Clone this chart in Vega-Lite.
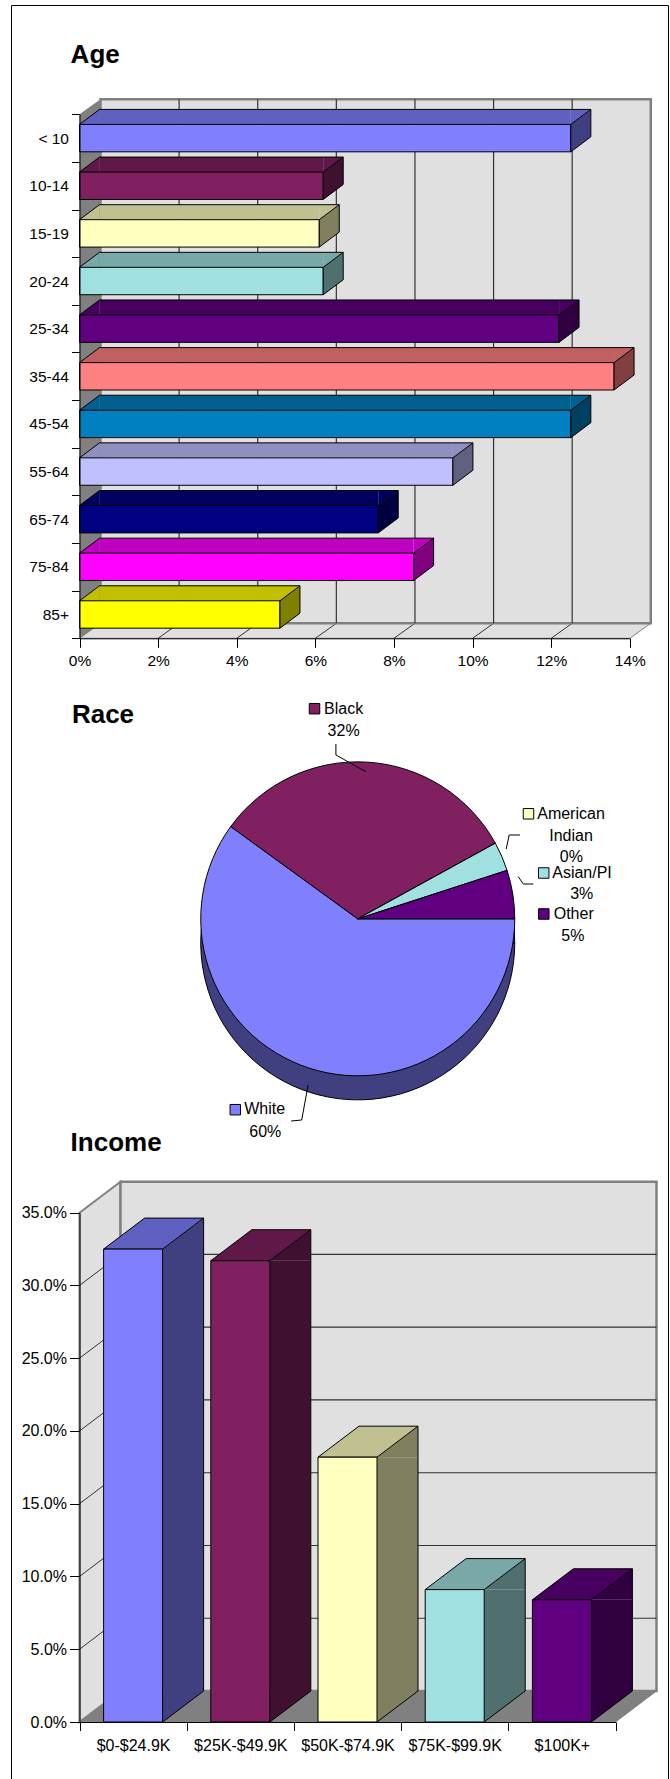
{
  "$schema": "https://vega.github.io/schema/vega-lite/v6.json",
  "width": 657,
  "height": 1774,
  "autosize": {"type": "none"},
  "padding": {"left": 11, "top": 5, "right": 2, "bottom": 0},
  "background": "#FFFFFF",
  "config": {
    "view": {"fill": "#FFFFC0", "stroke": "#000000", "strokeWidth": 1},
    "font": "Liberation Sans",
    "legend": {"disable": true},
    "axis": {"grid": false, "domainColor": "#000000", "tickColor": "#000000", "labelColor": "#000000", "titleColor": "#000000", "labelFont": "Liberation Sans", "titleFont": "Liberation Sans", "labelOverlap": false, "labelFlush": false, "labelAngle": 0, "domainWidth": 1, "tickWidth": 1, "zindex": 1}
  },
  "datasets": {
    "age": [
      {"age": "< 10", "pct": 12.5},
      {"age": "10-14", "pct": 6.2},
      {"age": "15-19", "pct": 6.1},
      {"age": "20-24", "pct": 6.2},
      {"age": "25-34", "pct": 12.2},
      {"age": "35-44", "pct": 13.6},
      {"age": "45-54", "pct": 12.5},
      {"age": "55-64", "pct": 9.5},
      {"age": "65-74", "pct": 7.6},
      {"age": "75-84", "pct": 8.5},
      {"age": "85+", "pct": 5.1}
    ],
    "race": [
      {"race": "White", "share": 0.60, "rank": 1},
      {"race": "Black", "share": 0.32, "rank": 2},
      {"race": "American Indian", "share": 0.0, "rank": 3},
      {"race": "Asian/PI", "share": 0.03, "rank": 4},
      {"race": "Other", "share": 0.05, "rank": 5}
    ],
    "income": [
      {"bracket": "$0-$24.9K", "pct": 32.5},
      {"bracket": "$25K-$49.9K", "pct": 31.7},
      {"bracket": "$50K-$74.9K", "pct": 18.2},
      {"bracket": "$75K-$99.9K", "pct": 9.1},
      {"bracket": "$100K+", "pct": 8.4}
    ],
    "ageTicks": [{"v": 2}, {"v": 4}, {"v": 6}, {"v": 8}, {"v": 10}, {"v": 12}],
    "incTicks": [{"v": 5}, {"v": 10}, {"v": 15}, {"v": 20}, {"v": 25}, {"v": 30}],
    "one": [{"k": 1}]
  },
  "layer": [
    {
      "layer": [
        {
          "data": {"name": "one"},
          "mark": {"type": "point", "shape": "M0,0L21,-15L571.3,-15L550.3,0Z", "size": 4, "filled": true, "opacity": 1, "fill": "#E0E0E0", "stroke": "#808080", "strokeWidth": 1, "yOffset": 23.82},
          "encoding": {
            "x": {"datum": 0, "type": "quantitative"},
            "y": {"datum": "85+", "type": "nominal"}
          }
        },
        {
          "data": {"name": "ageTicks"},
          "mark": {"type": "point", "shape": "M0,0L21,-15", "size": 4, "filled": false, "opacity": 1, "stroke": "#333333", "strokeWidth": 1, "yOffset": 23.82},
          "encoding": {
            "x": {"field": "v", "type": "quantitative"},
            "y": {"datum": "85+", "type": "nominal"}
          }
        },
        {
          "data": {"name": "one"},
          "mark": {"type": "rect", "fill": "#E0E0E0", "stroke": "#808080", "strokeWidth": 2.5, "xOffset": 21, "x2Offset": 21, "yOffset": -38.82, "y2Offset": 8.82},
          "encoding": {
            "x": {"datum": 0, "type": "quantitative"},
            "x2": {"datum": 14},
            "y": {"datum": "< 10", "type": "nominal"},
            "y2": {"datum": "85+"}
          }
        },
        {
          "data": {"name": "ageTicks"},
          "mark": {"type": "rule", "stroke": "#333333", "strokeWidth": 1.2, "xOffset": 21, "yOffset": -38.82, "y2Offset": 8.82},
          "encoding": {
            "x": {"field": "v", "type": "quantitative"},
            "y": {"datum": "< 10", "type": "nominal"},
            "y2": {"datum": "85+"}
          }
        },
        {
          "data": {"name": "one"},
          "mark": {"type": "point", "shape": "M0,0L21,-15L21,509L0,524Z", "size": 4, "filled": true, "opacity": 1, "fill": "#808080", "strokeWidth": 0, "yOffset": -23.82},
          "encoding": {
            "x": {"datum": 0, "type": "quantitative"},
            "y": {"datum": "< 10", "type": "nominal"}
          }
        },
        {
          "data": {"name": "age"},
          "mark": {"type": "bar", "orient": "horizontal", "height": 15, "x2Offset": 20, "yOffset": -21.2, "strokeWidth": 0},
          "encoding": {
            "x": {"field": "pct", "type": "quantitative"},
            "x2": {"datum": 0},
            "y": {"field": "age", "type": "nominal"},
            "fill": {"field": "age", "type": "nominal", "legend": null, "scale": {"domain": ["< 10", "10-14", "15-19", "20-24", "25-34", "35-44", "45-54", "55-64", "65-74", "75-84", "85+"], "range": ["#6060C0", "#601848", "#C0C090", "#78A8A8", "#480060", "#C06060", "#006090", "#9090C0", "#000060", "#C000C0", "#C0C000"]}}
          }
        },
        {
          "data": {"name": "age"},
          "mark": {"type": "point", "shape": "M0,0L20,-15L20,0Z", "size": 4, "filled": true, "opacity": 1, "strokeWidth": 0, "yOffset": -13.7},
          "encoding": {
            "x": {"datum": 0, "type": "quantitative"},
            "y": {"field": "age", "type": "nominal"},
            "fill": {"field": "age", "type": "nominal", "legend": null, "scale": {"domain": ["< 10", "10-14", "15-19", "20-24", "25-34", "35-44", "45-54", "55-64", "65-74", "75-84", "85+"], "range": ["#6060C0", "#601848", "#C0C090", "#78A8A8", "#480060", "#C06060", "#006090", "#9090C0", "#000060", "#C000C0", "#C0C000"]}}
          }
        },
        {
          "data": {"name": "age"},
          "mark": {"type": "point", "shape": "M0,0L20,-15L0,-15Z", "size": 4, "filled": true, "opacity": 1, "strokeWidth": 0, "yOffset": -13.7},
          "encoding": {
            "x": {"field": "pct", "type": "quantitative"},
            "y": {"field": "age", "type": "nominal"},
            "fill": {"field": "age", "type": "nominal", "legend": null, "scale": {"domain": ["< 10", "10-14", "15-19", "20-24", "25-34", "35-44", "45-54", "55-64", "65-74", "75-84", "85+"], "range": ["#6060C0", "#601848", "#C0C090", "#78A8A8", "#480060", "#C06060", "#006090", "#9090C0", "#000060", "#C000C0", "#C0C000"]}}
          }
        },
        {
          "data": {"name": "age"},
          "mark": {"type": "rule", "stroke": "#000000", "strokeWidth": 1, "xOffset": 20, "x2Offset": 20, "yOffset": -28.7},
          "encoding": {
            "x": {"field": "pct", "type": "quantitative"},
            "x2": {"datum": 0},
            "y": {"field": "age", "type": "nominal"}
          }
        },
        {
          "data": {"name": "age"},
          "mark": {"type": "point", "shape": "M0,0L20,-15", "size": 4, "filled": false, "opacity": 1, "stroke": "#000000", "strokeWidth": 1, "yOffset": -13.7},
          "encoding": {
            "x": {"datum": 0, "type": "quantitative"},
            "y": {"field": "age", "type": "nominal"}
          }
        },
        {
          "data": {"name": "age"},
          "mark": {"type": "bar", "height": 27.4, "stroke": "#000000", "strokeWidth": 1},
          "encoding": {
            "x": {"field": "pct", "type": "quantitative", "stack": null, "scale": {"type": "linear", "domain": [0, 14], "range": [68.5, 618.8], "nice": false, "zero": true},
              "axis": {"orient": "bottom", "offset": -1140.7, "values": [0, 2, 4, 6, 8, 10, 12, 14], "tickSize": 9, "labelPadding": 6, "labelFontSize": 15.5, "labelExpr": "datum.value + '%'", "title": null, "grid": false, "zindex": 1}},
            "y": {"field": "age", "type": "nominal", "scale": {"type": "band", "domain": ["< 10", "10-14", "15-19", "20-24", "25-34", "35-44", "45-54", "55-64", "65-74", "75-84", "85+"], "range": [109.3, 633.3], "paddingInner": 0, "paddingOuter": 0},
              "axis": {"orient": "left", "offset": -68.5, "tickBand": "extent", "tickSize": 8, "labelPadding": 3, "labelFontSize": 15.5, "zindex": 1, "title": "Age", "titleAngle": 0, "titleAlign": "left", "titleBaseline": "alphabetic", "titleX": -9.4, "titleY": 57.8, "titleFontSize": 26, "titleFontWeight": "bold"}},
            "fill": {"field": "age", "type": "nominal", "legend": null, "scale": {"domain": ["< 10", "10-14", "15-19", "20-24", "25-34", "35-44", "45-54", "55-64", "65-74", "75-84", "85+"], "range": ["#8080FF", "#802060", "#FFFFC0", "#A0E0E0", "#600080", "#FF8080", "#0080C0", "#C0C0FF", "#000080", "#FF00FF", "#FFFF00"]}}
          }
        },
        {
          "data": {"name": "age"},
          "mark": {"type": "point", "shape": "M0,0L20,-15L20,12.4L0,27.4Z", "size": 4, "filled": true, "opacity": 1, "stroke": "#000000", "strokeWidth": 1, "yOffset": -13.7},
          "encoding": {
            "x": {"field": "pct", "type": "quantitative"},
            "y": {"field": "age", "type": "nominal"},
            "fill": {"field": "age", "type": "nominal", "legend": null, "scale": {"domain": ["< 10", "10-14", "15-19", "20-24", "25-34", "35-44", "45-54", "55-64", "65-74", "75-84", "85+"], "range": ["#404080", "#401030", "#808060", "#507070", "#300040", "#804040", "#004060", "#606080", "#000040", "#800080", "#808000"]}}
          }
        }
      ],
      "resolve": {"scale": {"fill": "independent"}}
    },
    {
      "layer": [
        {
          "data": {"name": "race"},
          "mark": {"type": "arc", "outerRadius": 157, "fill": "#404080", "stroke": "#000000", "strokeWidth": 1, "xOffset": 18.25, "yOffset": 50.85},
          "encoding": {
            "theta": {"field": "share", "type": "quantitative", "stack": true, "scale": {"domain": [0, 1], "range": [1.5708, 7.854]}},
            "order": {"field": "rank", "type": "quantitative"}
          }
        },
        {
          "data": {"name": "race"},
          "mark": {"type": "arc", "outerRadius": 157, "stroke": "#000000", "strokeWidth": 1, "xOffset": 18.25, "yOffset": 26.85},
          "encoding": {
            "theta": {"field": "share", "type": "quantitative", "stack": true},
            "order": {"field": "rank", "type": "quantitative"},
            "fill": {"field": "race", "type": "nominal", "legend": null, "scale": {"domain": ["White", "Black", "American Indian", "Asian/PI", "Other"], "range": ["#8080FF", "#802060", "#FFFFC0", "#A0E0E0", "#600080"]}}
          }
        },
        {
          "data": {"name": "one"},
          "mark": {"type": "text", "text": "Race", "align": "left", "baseline": "alphabetic", "fontSize": 26, "fontWeight": "bold", "fill": "#000000", "dx": -267.6, "dy": -169.3}
        },
        {
          "data": {"name": "one"},
          "mark": {"type": "point", "shape": "M0,0L0,11L30,27.7", "size": 4, "filled": false, "opacity": 1, "stroke": "#000000", "strokeWidth": 1, "xOffset": -3.6, "yOffset": -148}
        },
        {
          "data": {"name": "one"},
          "mark": {"type": "point", "shape": "M0,0L-10.8,0L-13.8,14", "size": 4, "filled": false, "opacity": 1, "stroke": "#000000", "strokeWidth": 1, "xOffset": 180.5, "yOffset": -57}
        },
        {
          "data": {"name": "one"},
          "mark": {"type": "point", "shape": "M0,0L-10,0L-15,-7.3", "size": 4, "filled": false, "opacity": 1, "stroke": "#000000", "strokeWidth": 1, "xOffset": 193.8, "yOffset": -8}
        },
        {
          "data": {"name": "one"},
          "mark": {"type": "point", "shape": "M0,0L-6.4,35L-17,36", "size": 4, "filled": false, "opacity": 1, "stroke": "#000000", "strokeWidth": 1, "xOffset": -31.4, "yOffset": 193}
        },
        {
          "data": {"name": "race"},
          "transform": [{"filter": "datum.race === 'Black'"}],
          "mark": {"type": "point", "shape": "square", "size": 110, "filled": true, "opacity": 1, "stroke": "#000000", "strokeWidth": 1, "xOffset": -25, "yOffset": -183.3},
          "encoding": {"fill": {"field": "race", "type": "nominal", "legend": null}}
        },
        {
          "data": {"name": "race"},
          "transform": [{"filter": "datum.race === 'American Indian'"}],
          "mark": {"type": "point", "shape": "square", "size": 110, "filled": true, "opacity": 1, "stroke": "#000000", "strokeWidth": 1, "xOffset": 189, "yOffset": -78.2},
          "encoding": {"fill": {"field": "race", "type": "nominal", "legend": null}}
        },
        {
          "data": {"name": "race"},
          "transform": [{"filter": "datum.race === 'Asian/PI'"}],
          "mark": {"type": "point", "shape": "square", "size": 110, "filled": true, "opacity": 1, "stroke": "#000000", "strokeWidth": 1, "xOffset": 204.2, "yOffset": -19},
          "encoding": {"fill": {"field": "race", "type": "nominal", "legend": null}}
        },
        {
          "data": {"name": "race"},
          "transform": [{"filter": "datum.race === 'Other'"}],
          "mark": {"type": "point", "shape": "square", "size": 110, "filled": true, "opacity": 1, "stroke": "#000000", "strokeWidth": 1, "xOffset": 204.3, "yOffset": 22},
          "encoding": {"fill": {"field": "race", "type": "nominal", "legend": null}}
        },
        {
          "data": {"name": "race"},
          "transform": [{"filter": "datum.race === 'White'"}],
          "mark": {"type": "point", "shape": "square", "size": 110, "filled": true, "opacity": 1, "stroke": "#000000", "strokeWidth": 1, "xOffset": -104.2, "yOffset": 217.7},
          "encoding": {"fill": {"field": "race", "type": "nominal", "legend": null}}
        },
        {
          "data": {"name": "race"},
          "transform": [{"filter": "datum.race === 'Black'"}],
          "mark": {"type": "text", "align": "center", "baseline": "alphabetic", "fontSize": 16, "fill": "#000000", "dx": 4.1, "dy": -178},
          "encoding": {"text": {"field": "race", "type": "nominal"}}
        },
        {
          "data": {"name": "race"},
          "transform": [{"filter": "datum.race === 'Black'"}],
          "mark": {"type": "text", "align": "center", "baseline": "alphabetic", "fontSize": 16, "fill": "#000000", "dx": 4.1, "dy": -156},
          "encoding": {"text": {"field": "share", "type": "quantitative", "format": ".0%"}}
        },
        {
          "data": {"name": "race"},
          "transform": [{"filter": "datum.race === 'American Indian'"}],
          "mark": {"type": "text", "align": "center", "baseline": "alphabetic", "fontSize": 16, "fill": "#000000", "lineBreak": " ", "lineHeight": 21.7, "dx": 231.5, "dy": -72.7},
          "encoding": {"text": {"field": "race", "type": "nominal"}}
        },
        {
          "data": {"name": "race"},
          "transform": [{"filter": "datum.race === 'American Indian'"}],
          "mark": {"type": "text", "align": "center", "baseline": "alphabetic", "fontSize": 16, "fill": "#000000", "dx": 231.8, "dy": -30.3},
          "encoding": {"text": {"field": "share", "type": "quantitative", "format": ".0%"}}
        },
        {
          "data": {"name": "race"},
          "transform": [{"filter": "datum.race === 'Asian/PI'"}],
          "mark": {"type": "text", "align": "center", "baseline": "alphabetic", "fontSize": 16, "fill": "#000000", "dx": 242.5, "dy": -13.7},
          "encoding": {"text": {"field": "race", "type": "nominal"}}
        },
        {
          "data": {"name": "race"},
          "transform": [{"filter": "datum.race === 'Asian/PI'"}],
          "mark": {"type": "text", "align": "center", "baseline": "alphabetic", "fontSize": 16, "fill": "#000000", "dx": 242.2, "dy": 7},
          "encoding": {"text": {"field": "share", "type": "quantitative", "format": ".0%"}}
        },
        {
          "data": {"name": "race"},
          "transform": [{"filter": "datum.race === 'Other'"}],
          "mark": {"type": "text", "align": "center", "baseline": "alphabetic", "fontSize": 16, "fill": "#000000", "dx": 234.2, "dy": 26.5},
          "encoding": {"text": {"field": "race", "type": "nominal"}}
        },
        {
          "data": {"name": "race"},
          "transform": [{"filter": "datum.race === 'Other'"}],
          "mark": {"type": "text", "align": "center", "baseline": "alphabetic", "fontSize": 16, "fill": "#000000", "dx": 233.3, "dy": 48.5},
          "encoding": {"text": {"field": "share", "type": "quantitative", "format": ".0%"}}
        },
        {
          "data": {"name": "race"},
          "transform": [{"filter": "datum.race === 'White'"}],
          "mark": {"type": "text", "align": "center", "baseline": "alphabetic", "fontSize": 16, "fill": "#000000", "dx": -74.8, "dy": 222.3},
          "encoding": {"text": {"field": "race", "type": "nominal"}}
        },
        {
          "data": {"name": "race"},
          "transform": [{"filter": "datum.race === 'White'"}],
          "mark": {"type": "text", "align": "center", "baseline": "alphabetic", "fontSize": 16, "fill": "#000000", "dx": -74.2, "dy": 244.7},
          "encoding": {"text": {"field": "share", "type": "quantitative", "format": ".0%"}}
        }
      ]
    },
    {
      "layer": [
        {
          "data": {"name": "one"},
          "mark": {"type": "point", "shape": "M0,0L41,-31L577,-31L536,0Z", "size": 4, "filled": true, "opacity": 1, "fill": "#808080", "stroke": "#808080", "strokeWidth": 1, "xOffset": -53.6},
          "encoding": {
            "x": {"datum": "$0-$24.9K", "type": "nominal"},
            "y": {"datum": 0, "type": "quantitative"}
          }
        },
        {
          "data": {"name": "one"},
          "mark": {"type": "point", "shape": "M0,0L41,-31L41,478.3L0,509.3Z", "size": 4, "filled": true, "opacity": 1, "fill": "#E0E0E0", "stroke": "#808080", "strokeWidth": 2, "xOffset": -53.6},
          "encoding": {
            "x": {"datum": "$0-$24.9K", "type": "nominal"},
            "y": {"datum": 35, "type": "quantitative"}
          }
        },
        {
          "data": {"name": "one"},
          "mark": {"type": "rect", "fill": "#E0E0E0", "stroke": "#808080", "strokeWidth": 2.5, "xOffset": -12.6, "x2Offset": 94.6, "yOffset": -31, "y2Offset": -31},
          "encoding": {
            "x": {"datum": "$0-$24.9K", "type": "nominal"},
            "x2": {"datum": "$100K+"},
            "y": {"datum": 0, "type": "quantitative"},
            "y2": {"datum": 35}
          }
        },
        {
          "data": {"name": "incTicks"},
          "mark": {"type": "rule", "stroke": "#333333", "strokeWidth": 1.2, "xOffset": -12.6, "x2Offset": 94.6, "yOffset": -31},
          "encoding": {
            "x": {"datum": "$0-$24.9K", "type": "nominal"},
            "x2": {"datum": "$100K+"},
            "y": {"field": "v", "type": "quantitative"}
          }
        },
        {
          "data": {"name": "incTicks"},
          "mark": {"type": "point", "shape": "M0,0L41,-31", "size": 4, "filled": false, "opacity": 1, "stroke": "#333333", "strokeWidth": 1, "xOffset": -53.6},
          "encoding": {
            "x": {"datum": "$0-$24.9K", "type": "nominal"},
            "y": {"field": "v", "type": "quantitative"}
          }
        },
        {
          "data": {"name": "income"},
          "mark": {"type": "bar", "width": 41, "xOffset": 50, "y2Offset": -31, "strokeWidth": 0},
          "encoding": {
            "x": {"field": "bracket", "type": "nominal"},
            "y": {"field": "pct", "type": "quantitative"},
            "y2": {"datum": 0},
            "fill": {"field": "bracket", "type": "nominal", "legend": null, "scale": {"domain": ["$0-$24.9K", "$25K-$49.9K", "$50K-$74.9K", "$75K-$99.9K", "$100K+"], "range": ["#404080", "#401030", "#808060", "#507070", "#300040"]}}
          }
        },
        {
          "data": {"name": "income"},
          "mark": {"type": "point", "shape": "M0,0L41,-31L41,0Z", "size": 4, "filled": true, "opacity": 1, "strokeWidth": 0, "xOffset": 29.5},
          "encoding": {
            "x": {"field": "bracket", "type": "nominal"},
            "y": {"field": "pct", "type": "quantitative"},
            "fill": {"field": "bracket", "type": "nominal", "legend": null, "scale": {"domain": ["$0-$24.9K", "$25K-$49.9K", "$50K-$74.9K", "$75K-$99.9K", "$100K+"], "range": ["#404080", "#401030", "#808060", "#507070", "#300040"]}}
          }
        },
        {
          "data": {"name": "income"},
          "mark": {"type": "point", "shape": "M0,0L0,-31L41,-31Z", "size": 4, "filled": true, "opacity": 1, "strokeWidth": 0, "xOffset": 29.5},
          "encoding": {
            "x": {"field": "bracket", "type": "nominal"},
            "y": {"datum": 0, "type": "quantitative"},
            "fill": {"field": "bracket", "type": "nominal", "legend": null, "scale": {"domain": ["$0-$24.9K", "$25K-$49.9K", "$50K-$74.9K", "$75K-$99.9K", "$100K+"], "range": ["#404080", "#401030", "#808060", "#507070", "#300040"]}}
          }
        },
        {
          "data": {"name": "income"},
          "mark": {"type": "rule", "stroke": "#000000", "strokeWidth": 1, "xOffset": 70.5, "yOffset": -31, "y2Offset": -31},
          "encoding": {
            "x": {"field": "bracket", "type": "nominal"},
            "y": {"field": "pct", "type": "quantitative"},
            "y2": {"datum": 0}
          }
        },
        {
          "data": {"name": "income"},
          "mark": {"type": "point", "shape": "M0,0L41,-31", "size": 4, "filled": false, "opacity": 1, "stroke": "#000000", "strokeWidth": 1, "xOffset": 29.5},
          "encoding": {
            "x": {"field": "bracket", "type": "nominal"},
            "y": {"datum": 0, "type": "quantitative"}
          }
        },
        {
          "data": {"name": "income"},
          "mark": {"type": "point", "shape": "M0,0L59,0L100,-31L41,-31Z", "size": 4, "filled": true, "opacity": 1, "stroke": "#000000", "strokeWidth": 1, "xOffset": -29.5},
          "encoding": {
            "x": {"field": "bracket", "type": "nominal"},
            "y": {"field": "pct", "type": "quantitative"},
            "fill": {"field": "bracket", "type": "nominal", "legend": null, "scale": {"domain": ["$0-$24.9K", "$25K-$49.9K", "$50K-$74.9K", "$75K-$99.9K", "$100K+"], "range": ["#6060C0", "#601848", "#C0C090", "#78A8A8", "#480060"]}}
          }
        },
        {
          "data": {"name": "income"},
          "mark": {"type": "bar", "width": 59, "stroke": "#000000", "strokeWidth": 1},
          "encoding": {
            "x": {"field": "bracket", "type": "nominal", "scale": {"type": "band", "domain": ["$0-$24.9K", "$25K-$49.9K", "$50K-$74.9K", "$75K-$99.9K", "$100K+"], "range": [68.5, 604.5], "paddingInner": 0, "paddingOuter": 0},
              "axis": {"orient": "bottom", "offset": -57, "tickBand": "extent", "tickSize": 8.5, "labelPadding": 7, "labelFontSize": 16, "labelAngle": 0, "title": null, "zindex": 1}},
            "y": {"field": "pct", "type": "quantitative", "stack": null, "scale": {"type": "linear", "domain": [0, 35], "range": [1717, 1207.7], "nice": false, "zero": true},
              "axis": {"orient": "left", "offset": -68.5, "values": [0, 5, 10, 15, 20, 25, 30, 35], "tickSize": 10, "labelPadding": 3, "labelFontSize": 16, "labelExpr": "format(datum.value, '.1f') + '%'", "grid": false, "zindex": 1, "title": "Income", "titleAngle": 0, "titleAlign": "left", "titleBaseline": "alphabetic", "titleX": -9.4, "titleY": 1145.2, "titleFontSize": 26, "titleFontWeight": "bold"}},
            "fill": {"field": "bracket", "type": "nominal", "legend": null, "scale": {"domain": ["$0-$24.9K", "$25K-$49.9K", "$50K-$74.9K", "$75K-$99.9K", "$100K+"], "range": ["#8080FF", "#802060", "#FFFFC0", "#A0E0E0", "#600080"]}}
          }
        }
      ],
      "resolve": {"scale": {"fill": "independent"}}
    }
  ],
  "resolve": {"scale": {"x": "independent", "y": "independent", "fill": "independent"}, "axis": {"x": "independent", "y": "independent"}}
}
